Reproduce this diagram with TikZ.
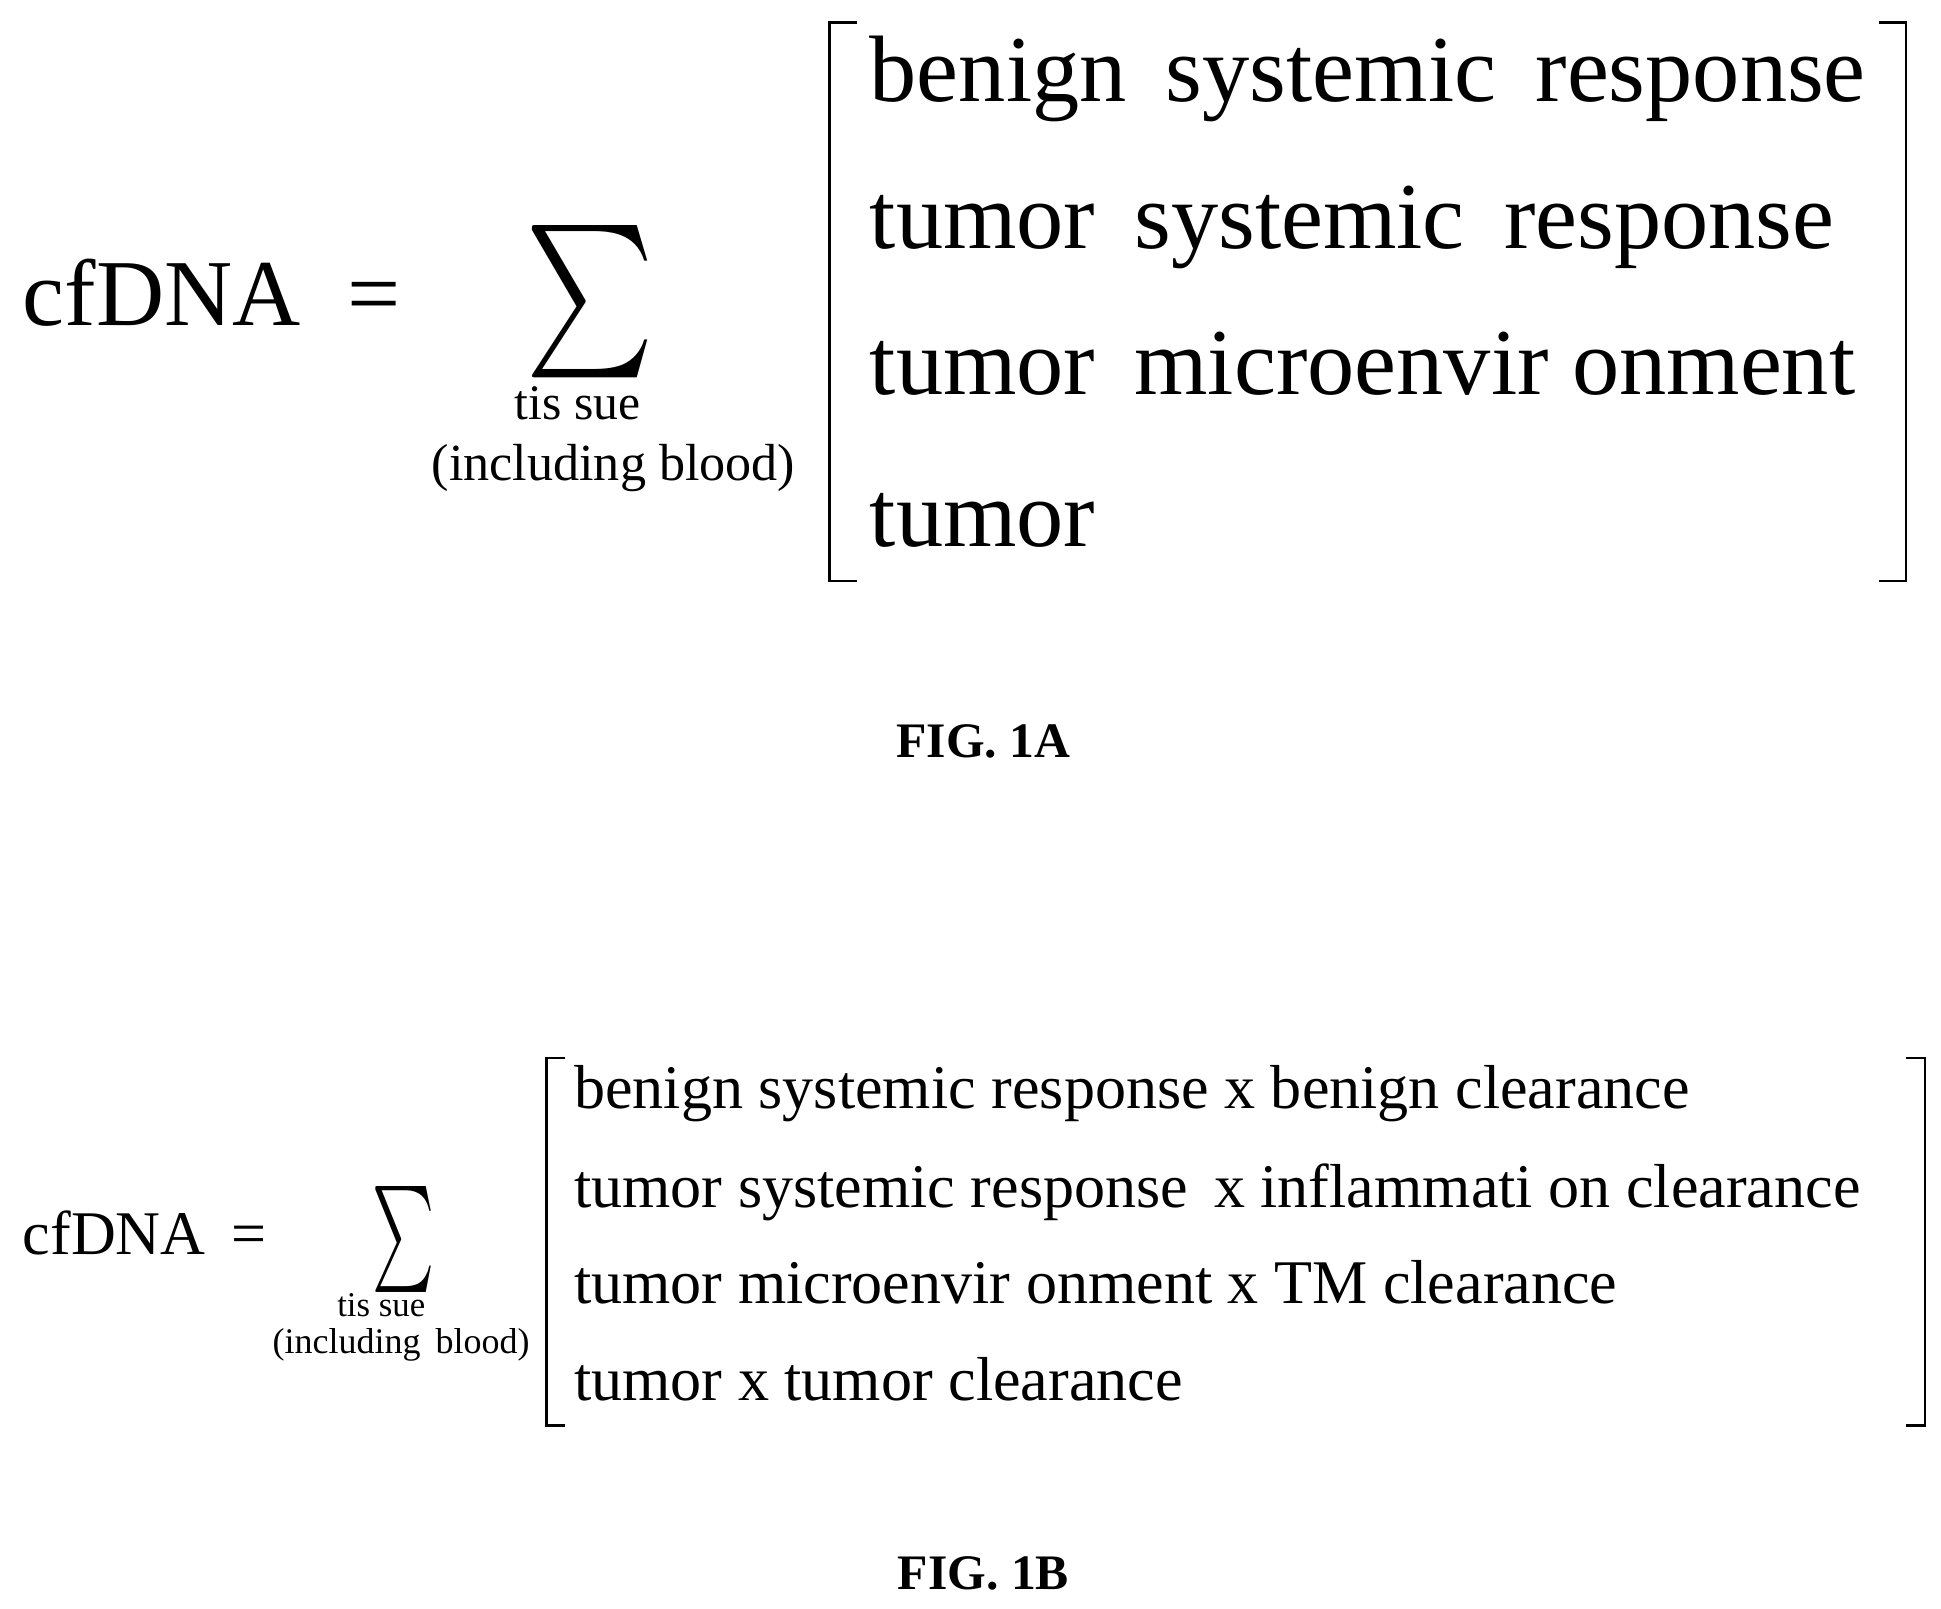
\documentclass[tikz,border=0pt]{standalone}
\usepackage{fontspec}
\setmainfont{Liberation Serif}
\usepackage{graphicx}
\begin{document}
\begin{tikzpicture}[x=0.5pt,y=-0.5pt,
  big/.style={anchor=base west,inner sep=0,font=\fontsize{38}{40}\selectfont},
  sm/.style={anchor=base west,inner sep=0,font=\fontsize{25}{27}\selectfont},
  lab/.style={anchor=base,inner sep=0,font=\fontsize{20}{22}\selectfont\bfseries},
  br/.style={line width=1pt}]
\useasboundingbox (0,0) rectangle (1563,1295);
% FIG 1A
\node[big] (c1) at (18,262) {cfDNA \ =};
\node[inner sep=0] (s1) at (475,243) {\resizebox{52pt}{46pt}{$\sum$}};
\node[anchor=base,inner sep=0,font=\fontsize{20}{22}\selectfont] (t1) at (465,338) {tis sue};
\node[anchor=base,inner sep=0,font=\fontsize{21}{22}\selectfont] (t2) at (494,387) {(including blood)};
\draw[br] (690,18) -- (668,18) -- (668,468) -- (690,468);
\draw[br] (1513,18) -- (1535,18) -- (1535,468) -- (1513,468);
\node[big] (a1) at (700,82) {benign\, systemic\, response};
\node[big] (a2) at (700,200) {tumor\, systemic\, response};
\node[big] (a3) at (700,318) {tumor\, microenvir onment};
\node[big] (a4) at (700,440) {tumor};
\node[lab] (f1) at (792,610) {FIG. 1A};
% FIG 1B
\node[sm] (c2) at (18,1010) {cfDNA \,=};
\node[inner sep=0] (s2) at (325,998) {\resizebox{25pt}{32pt}{$\sum$}};
\node[anchor=base,inner sep=0,font=\fontsize{14}{15}\selectfont] (u1) at (307,1060) {tis sue};
\node[anchor=base,inner sep=0,font=\fontsize{14.5}{15}\selectfont] (u2) at (323,1090) {(including\, blood)};
\draw[br] (455,852) -- (440,852) -- (440,1148) -- (455,1148);
\draw[br] (1535,852) -- (1550,852) -- (1550,1148) -- (1535,1148);
\node[sm] (b1) at (462,893) {benign systemic response x benign clearance};
\node[sm] (b2) at (462,972) {tumor systemic response\, x inflammati on clearance};
\node[sm] (b3) at (462,1050) {tumor microenvir onment x TM clearance};
\node[sm] (b4) at (462,1128) {tumor x tumor clearance};
\node[lab] (f2) at (792,1280) {FIG. 1B};
\end{tikzpicture}
\end{document}
